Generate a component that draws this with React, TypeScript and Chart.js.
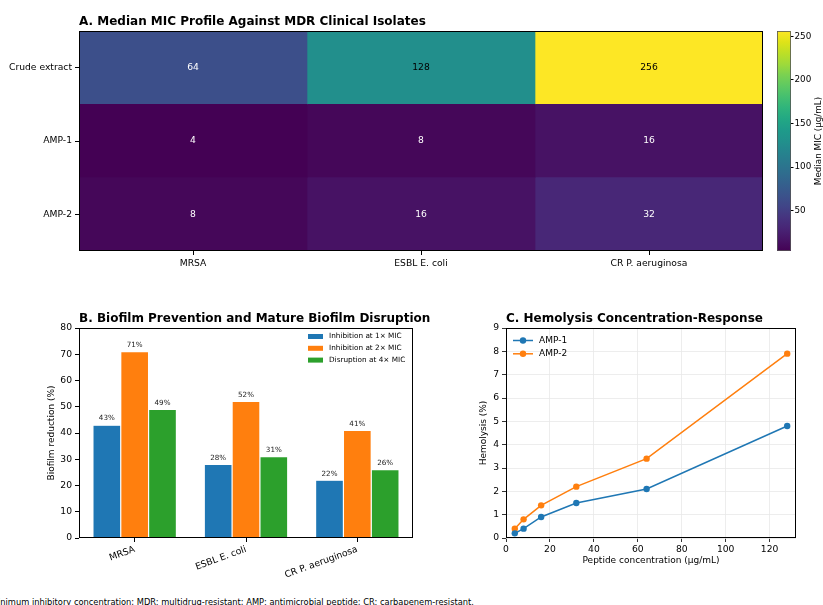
import React, { useEffect, useRef } from "react";
import { Chart, registerables } from "chart.js";
Chart.register(...registerables);

const FONT = '"DejaVu Sans", "Liberation Sans", sans-serif';

// ---------- Panel A: MIC heatmap ----------
const isolates = ["MRSA", "ESBL E. coli", "CR P. aeruginosa"];
const agents = ["Crude extract", "AMP-1", "AMP-2"];
const micCrude = [64, 128, 256];
const micAmp1 = [4, 8, 16];
const micAmp2 = [8, 16, 32];
const micMin = 4;
const micMax = 256;
const colorbarTicks = [50, 100, 150, 200, 250];

// ---------- Panel B: biofilm ----------
const biofilmSeries = ["Inhibition at 1× MIC", "Inhibition at 2× MIC", "Disruption at 4× MIC"];
const inhib1x = [43, 28, 22];
const inhib2x = [71, 52, 41];
const disrupt4x = [49, 31, 26];
const biofilmColors = ["#1f77b4", "#ff7f0e", "#2ca02c"];
const biofilmTicksMax = 80;

// ---------- Panel C: hemolysis ----------
const concentrations = [4, 8, 16, 32, 64, 128];
const hemoAmp1 = [0.2, 0.4, 0.9, 1.5, 2.1, 4.8];
const hemoAmp2 = [0.4, 0.8, 1.4, 2.2, 3.4, 7.9];
const hemoNames = ["AMP-1", "AMP-2"];
const hemoColors = ["#1f77b4", "#ff7f0e"];
const concTicks = [0, 20, 40, 60, 80, 100, 120];

const footnote =
  "MIC: minimum inhibitory concentration; MDR: multidrug-resistant; AMP: antimicrobial peptide; CR: carbapenem-resistant.";

const VIRIDIS = [
  "#440154", "#471365", "#482475", "#46337f", "#414487", "#3b528b", "#355f8d",
  "#2f6c8e", "#2a788e", "#25848e", "#21918c", "#1e9b8a", "#22a884", "#2fb47c",
  "#44bf70", "#5ec962", "#7ad151", "#9fda3a", "#bddf26", "#dfe318", "#fde725",
];
function hexToRgb(h: string) {
  return [parseInt(h.slice(1, 3), 16), parseInt(h.slice(3, 5), 16), parseInt(h.slice(5, 7), 16)];
}
function viridis(t: number) {
  t = Math.max(0, Math.min(1, t));
  const pos = t * (VIRIDIS.length - 1);
  const i = Math.min(VIRIDIS.length - 2, Math.floor(pos));
  const f = pos - i;
  const a = hexToRgb(VIRIDIS[i]);
  const b = hexToRgb(VIRIDIS[i + 1]);
  const c = a.map((v, k) => Math.round(v + (b[k] - v) * f));
  return `rgb(${c[0]},${c[1]},${c[2]})`;
}
const norm = (v: number) => (v - micMin) / (micMax - micMin);

const font = (size: number, weight = "normal") => `${weight} ${size}px ${FONT}`;

const framePlugin = {
  id: "frame",
  afterDraw(chart: any) {
    const { ctx, chartArea: a } = chart;
    ctx.save();
    ctx.strokeStyle = "#000";
    ctx.lineWidth = 1;
    ctx.strokeRect(Math.round(a.left) + 0.5, Math.round(a.top) + 0.5, Math.round(a.right - a.left) - 1, Math.round(a.bottom - a.top) - 1);
    ctx.restore();
  },
};

function titlesPlugin(opts: { title?: string; yTitle?: string; yOff?: number; xTitle?: string; xOff?: number }) {
  return {
    id: "titles",
    afterDraw(chart: any) {
      const { ctx, chartArea: a } = chart;
      ctx.save();
      ctx.fillStyle = "#000";
      if (opts.title) {
        ctx.font = font(12, "bold");
        ctx.textAlign = "left";
        ctx.textBaseline = "alphabetic";
        ctx.fillText(opts.title, a.left, a.top - 6);
      }
      if (opts.yTitle) {
        ctx.font = font(9);
        ctx.translate(a.left - (opts.yOff || 25), (a.top + a.bottom) / 2);
        ctx.rotate(-Math.PI / 2);
        ctx.textAlign = "center";
        ctx.textBaseline = "middle";
        ctx.fillText(opts.yTitle, 0, 0);
        ctx.setTransform(1, 0, 0, 1, 0, 0);
      }
      if (opts.xTitle) {
        ctx.font = font(9);
        ctx.textAlign = "center";
        ctx.textBaseline = "middle";
        ctx.fillText(opts.xTitle, (a.left + a.right) / 2, a.bottom + (opts.xOff || 23));
      }
      ctx.restore();
    },
  };
}

const tickFont = { family: FONT, size: 9.2 };

function ChartBox({ left, top, width, height, make }: any) {
  const ref = useRef<HTMLCanvasElement>(null);
  useEffect(() => {
    const chart = new Chart(ref.current as HTMLCanvasElement, make());
    return () => chart.destroy();
  }, []);
  return (
    <div style={{ position: "absolute", left, top, width, height }}>
      <canvas ref={ref} width={width} height={height} style={{ width, height, display: "block" }} />
    </div>
  );
}

function heatmapConfig(): any {
  const matrix = [micCrude, micAmp1, micAmp2];
  const datasets = isolates.map((iso, j) => ({
    label: iso,
    data: agents.map(() => [j, j + 1]),
    backgroundColor: agents.map((_, i) => viridis(norm(matrix[i][j]))),
    borderWidth: 0,
    barPercentage: 1,
    categoryPercentage: 1,
    grouped: false,
  }));
  return {
    type: "bar",
    data: { labels: agents, datasets },
    options: {
      indexAxis: "y",
      responsive: false,
      animation: false,
      layout: { padding: { left: 0, right: 7, top: 31, bottom: 0 } },
      plugins: { legend: { display: false }, tooltip: { enabled: false } },
      scales: {
        x: {
          type: "linear",
          min: 0,
          max: 3,
          afterBuildTicks: (s: any) => {
            s.ticks = isolates.map((_, j) => ({ value: j + 0.5 }));
          },
          afterFit: (s: any) => {
            s.height = 39;
          },
          ticks: { callback: (_v: any, i: number) => isolates[i], font: tickFont, color: "#000", maxRotation: 0, autoSkip: false, padding: 3 },
          grid: { drawOnChartArea: false, tickLength: 4, tickColor: "#000" },
          border: { display: false },
        },
        y: {
          type: "category",
          afterFit: (s: any) => {
            s.width = 79;
          },
          ticks: { font: tickFont, color: "#000", padding: 3 },
          grid: { offset: false, drawOnChartArea: false, tickLength: 4, tickColor: "#000" },
          border: { display: false },
        },
      },
    },
    plugins: [
      {
        id: "cellLabels",
        afterDatasetsDraw(chart: any) {
          const { ctx } = chart;
          ctx.save();
          ctx.font = font(9.2);
          ctx.textAlign = "center";
          ctx.textBaseline = "middle";
          chart.data.datasets.forEach((_ds: any, j: number) => {
            chart.getDatasetMeta(j).data.forEach((el: any, i: number) => {
              const v = matrix[i][j];
              ctx.fillStyle = norm(v) > 0.45 ? "#000" : "#fff";
              ctx.fillText(String(v), (el.x + el.base) / 2, el.y);
            });
          });
          ctx.restore();
        },
      },
      framePlugin,
      titlesPlugin({ title: "A. Median MIC Profile Against MDR Clinical Isolates" }),
    ],
  };
}

function colorbarConfig(): any {
  return {
    type: "bar",
    data: {
      labels: [""],
      datasets: [
        {
          data: [[micMin, micMax]],
          borderWidth: 0,
          barPercentage: 1,
          categoryPercentage: 1,
          backgroundColor: (c: any) => {
            const { chart } = c;
            const a = chart.chartArea;
            if (!a) return "#888";
            const g = chart.ctx.createLinearGradient(0, a.bottom, 0, a.top);
            VIRIDIS.forEach((col, k) => g.addColorStop(k / (VIRIDIS.length - 1), col));
            return g;
          },
        },
      ],
    },
    options: {
      responsive: false,
      animation: false,
      layout: { padding: { left: 7, right: 0, top: 31, bottom: 39 } },
      plugins: { legend: { display: false }, tooltip: { enabled: false } },
      scales: {
        x: { display: false },
        y: {
          position: "right",
          min: micMin,
          max: micMax,
          afterBuildTicks: (s: any) => {
            s.ticks = colorbarTicks.map((v) => ({ value: v }));
          },
          afterFit: (s: any) => {
            s.width = 32;
          },
          ticks: { font: { family: FONT, size: 8.8 }, color: "#000", padding: 1 },
          grid: { drawOnChartArea: false, tickLength: 2.5, tickColor: "#000" },
          border: { display: false },
        },
      },
    },
    plugins: [
      {
        id: "cbFrame",
        afterDraw(chart: any) {
          const { ctx, chartArea: a } = chart;
          ctx.save();
          ctx.strokeStyle = "#555";
          ctx.lineWidth = 0.8;
          ctx.strokeRect(a.left + 0.5, a.top + 0.5, a.right - a.left - 1, a.bottom - a.top - 1);
          ctx.font = font(8.8);
          ctx.fillStyle = "#000";
          ctx.translate(a.right + 28, (a.top + a.bottom) / 2);
          ctx.rotate(-Math.PI / 2);
          ctx.textAlign = "center";
          ctx.textBaseline = "middle";
          ctx.fillText("Median MIC (μg/mL)", 0, 0);
          ctx.restore();
        },
      },
    ],
  };
}

function biofilmConfig(): any {
  const series = [inhib1x, inhib2x, disrupt4x];
  return {
    type: "bar",
    data: {
      labels: isolates,
      datasets: series.map((d, k) => ({
        label: biofilmSeries[k],
        data: d,
        backgroundColor: biofilmColors[k],
        borderColor: "rgba(255,255,255,0.8)",
        borderWidth: 0.6,
        barPercentage: 1,
        categoryPercentage: 0.75,
      })),
    },
    options: {
      responsive: false,
      animation: false,
      layout: { padding: { left: 42, right: 27, top: 33, bottom: 0 } },
      plugins: { legend: { display: false }, tooltip: { enabled: false } },
      scales: {
        x: {
          afterFit: (s: any) => {
            s.height = 47;
          },
          ticks: { font: tickFont, color: "#000", minRotation: 20, maxRotation: 20, padding: 2 },
          grid: { offset: false, drawOnChartArea: false, tickLength: 4, tickColor: "#000" },
          border: { display: false },
        },
        y: {
          min: 0,
          max: biofilmTicksMax,
          afterFit: (s: any) => {
            s.width = 37;
          },
          ticks: { stepSize: 10, font: tickFont, color: "#000", padding: 3 },
          grid: { drawOnChartArea: false, tickLength: 4, tickColor: "#000" },
          border: { display: false },
        },
      },
    },
    plugins: [
      {
        id: "valueLabels",
        afterDatasetsDraw(chart: any) {
          const { ctx } = chart;
          ctx.save();
          ctx.font = font(7.2);
          ctx.fillStyle = "#222";
          ctx.textAlign = "center";
          ctx.textBaseline = "bottom";
          series.forEach((d, k) => {
            chart.getDatasetMeta(k).data.forEach((el: any, i: number) => {
              ctx.fillText(`${d[i]}%`, el.x, el.y - 3);
            });
          });
          ctx.restore();
        },
      },
      {
        id: "barLegend",
        afterDraw(chart: any) {
          const { ctx, chartArea: a } = chart;
          ctx.save();
          ctx.font = font(7.3);
          ctx.textAlign = "left";
          ctx.textBaseline = "middle";
          biofilmSeries.forEach((name, k) => {
            const y = a.top + 8.5 + k * 11.8;
            ctx.fillStyle = biofilmColors[k];
            ctx.fillRect(a.right - 105, y - 2.5, 15, 5);
            ctx.fillStyle = "#000";
            ctx.fillText(name, a.right - 84, y);
          });
          ctx.restore();
        },
      },
      framePlugin,
      titlesPlugin({ title: "B. Biofilm Prevention and Mature Biofilm Disruption", yTitle: "Biofilm reduction (%)", yOff: 27 }),
    ],
  };
}

function hemolysisConfig(): any {
  const series = [hemoAmp1, hemoAmp2];
  return {
    type: "line",
    data: {
      datasets: series.map((d, k) => ({
        label: hemoNames[k],
        data: concentrations.map((c, i) => ({ x: c, y: d[i] })),
        borderColor: hemoColors[k],
        backgroundColor: hemoColors[k],
        borderWidth: 1.5,
        pointRadius: 3.2,
        pointBorderWidth: 0,
        pointBackgroundColor: hemoColors[k],
        tension: 0,
        fill: false,
      })),
    },
    options: {
      responsive: false,
      animation: false,
      layout: { padding: { left: 34, right: 27, top: 33, bottom: 0 } },
      plugins: { legend: { display: false }, tooltip: { enabled: false } },
      scales: {
        x: {
          type: "linear",
          min: 0,
          max: 132,
          afterBuildTicks: (s: any) => {
            s.ticks = concTicks.map((v) => ({ value: v }));
          },
          afterFit: (s: any) => {
            s.height = 47;
          },
          ticks: { font: tickFont, color: "#000", maxRotation: 0, padding: 2 },
          grid: { color: "#e8e8e8", lineWidth: 0.8, tickLength: 4, tickColor: "#000" },
          border: { display: false },
        },
        y: {
          min: 0,
          max: 9,
          afterFit: (s: any) => {
            s.width = 32;
          },
          ticks: { stepSize: 1, font: tickFont, color: "#000", padding: 3 },
          grid: { color: "#e8e8e8", lineWidth: 0.8, tickLength: 4, tickColor: "#000" },
          border: { display: false },
        },
      },
    },
    plugins: [
      {
        id: "lineLegend",
        afterDraw(chart: any) {
          const { ctx, chartArea: a } = chart;
          ctx.save();
          ctx.font = font(9);
          ctx.textAlign = "left";
          ctx.textBaseline = "middle";
          hemoNames.forEach((name, k) => {
            const y = a.top + 12.5 + k * 13.3;
            ctx.strokeStyle = hemoColors[k];
            ctx.lineWidth = 1.5;
            ctx.beginPath();
            ctx.moveTo(a.left + 7, y);
            ctx.lineTo(a.left + 27, y);
            ctx.stroke();
            ctx.fillStyle = hemoColors[k];
            ctx.beginPath();
            ctx.arc(a.left + 17, y, 3.2, 0, Math.PI * 2);
            ctx.fill();
            ctx.fillStyle = "#000";
            ctx.fillText(name, a.left + 33, y);
          });
          ctx.restore();
        },
      },
      framePlugin,
      titlesPlugin({
        title: "C. Hemolysis Concentration-Response",
        yTitle: "Hemolysis (%)",
        yOff: 22,
        xTitle: "Peptide concentration (μg/mL)",
        xOff: 23,
      }),
    ],
  };
}

export default function App() {
  return (
    <div style={{ position: "fixed", left: 0, top: 0, width: 823, height: 605, background: "#fff", overflow: "hidden" }}>
      <ChartBox left={0} top={0} width={770} height={290} make={heatmapConfig} />
      <ChartBox left={770} top={0} width={53} height={290} make={colorbarConfig} />
      <ChartBox left={0} top={295} width={440} height={290} make={biofilmConfig} />
      <ChartBox left={440} top={295} width={383} height={290} make={hemolysisConfig} />
      <div
        style={{
          position: "absolute",
          right: 349,
          top: 596,
          fontFamily: FONT,
          fontSize: 8.3,
          lineHeight: "12px",
          whiteSpace: "nowrap",
          color: "#000",
        }}
      >
        {footnote}
      </div>
    </div>
  );
}
